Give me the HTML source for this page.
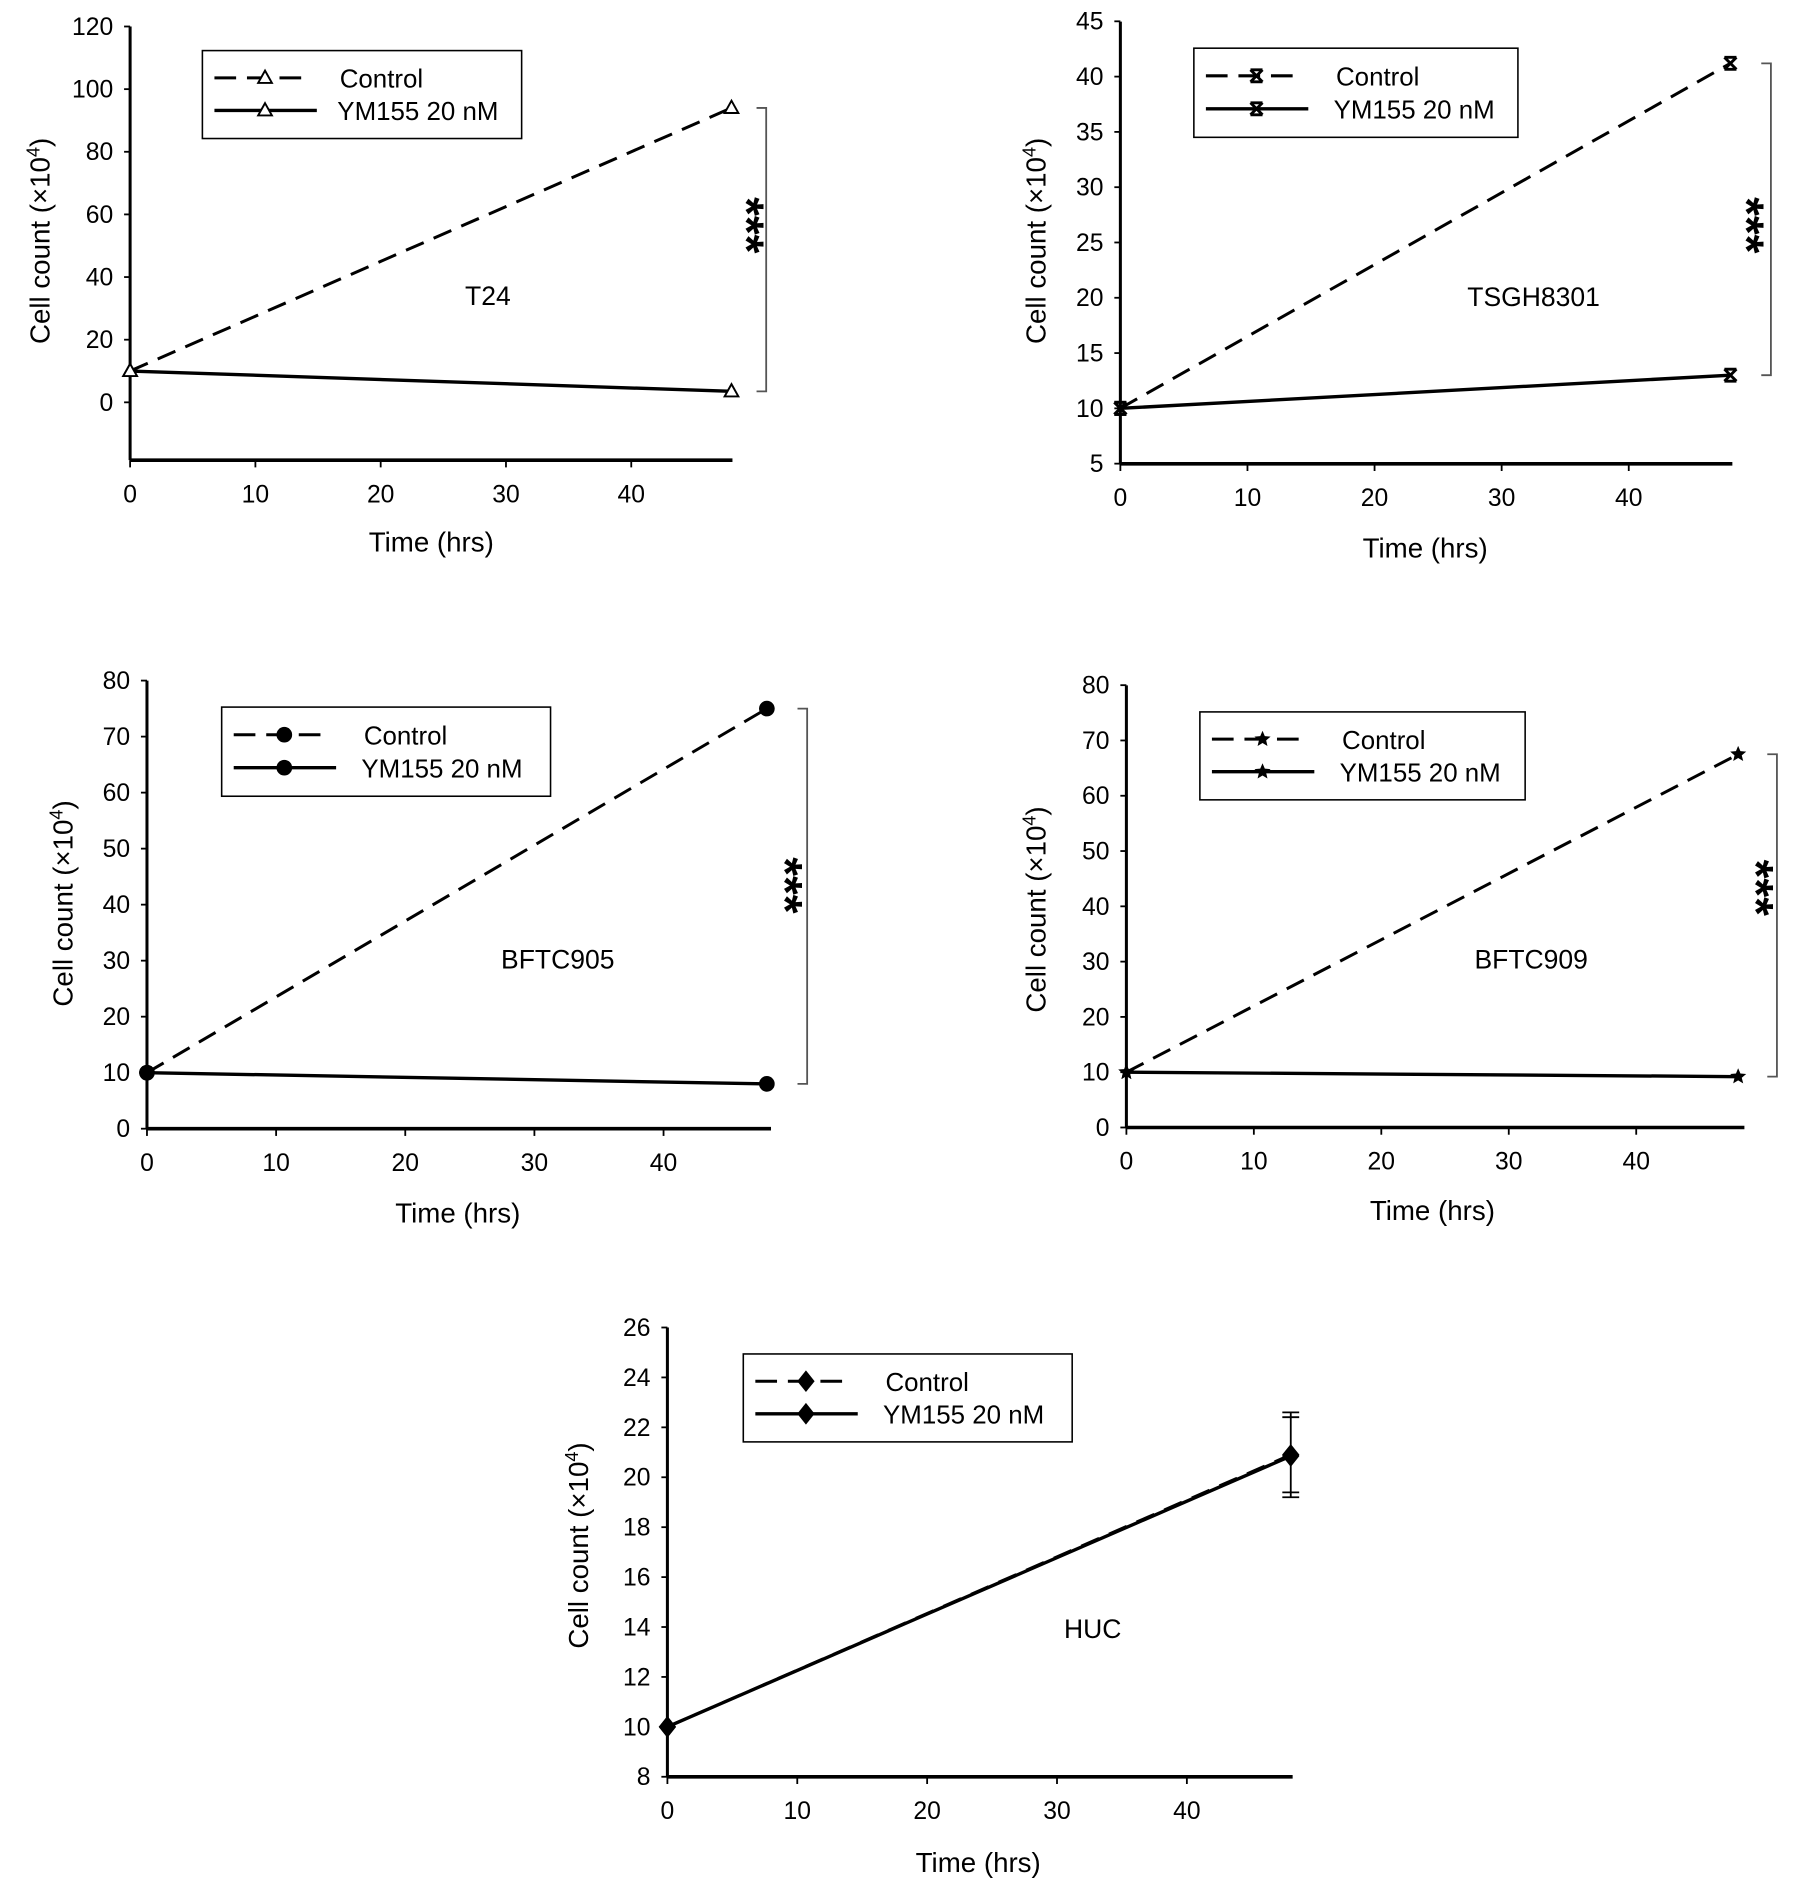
<!DOCTYPE html>
<html><head><meta charset="utf-8"><style>
html,body{margin:0;padding:0;background:#fff;}
svg{display:block;font-family:"Liberation Sans",Arial,sans-serif;}
</style></head><body>
<svg id="fig" width="1795" height="1890" viewBox="0 0 1490 1569" preserveAspectRatio="none" xmlns="http://www.w3.org/2000/svg"></svg>
<script>
// Data arrays
const timePoints = [0, 48];
const xTicks = [0, 10, 20, 30, 40];
const panelNames = ["T24", "TSGH8301", "BFTC905", "BFTC909", "HUC"];
const controlT24 = [10, 94];
const ymT24 = [10, 3.5];
const controlTSGH = [10, 41.2];
const ymTSGH = [10, 13];
const controlB905 = [10, 75];
const ymB905 = [10, 8];
const controlB909 = [10, 67.5];
const ymB909 = [10, 9.2];
const controlHUC = [10, 20.9];
const ymHUC = [10, 20.85];
const errHUC = [0, 1.7];
const yTicksT24 = [0, 20, 40, 60, 80, 100, 120];
const yTicksTSGH = [5, 10, 15, 20, 25, 30, 35, 40, 45];
const yTicks905 = [0, 10, 20, 30, 40, 50, 60, 70, 80];
const yTicks909 = [0, 10, 20, 30, 40, 50, 60, 70, 80];
const yTicksHUC = [8, 10, 12, 14, 16, 18, 20, 22, 24, 26];

const NS = "http://www.w3.org/2000/svg";
const svg = document.getElementById("fig");
function mk(tag, attrs, parent, text) {
  const e = document.createElementNS(NS, tag);
  for (const k in attrs) e.setAttribute(k, attrs[k]);
  if (text !== undefined) e.textContent = text;
  (parent || svg).appendChild(e);
  return e;
}
function marker(g, type, x, y, s) {
  let m;
  if (type === "tri") m = mk("path", {d:`M${x},${y-s} L${x+s*0.95},${y+s*0.7} L${x-s*0.95},${y+s*0.7} Z`, fill:"#fff", stroke:"#000", "stroke-width":1.6}, g);
  else if (type === "x") m = mk("path", {d:`M${x-s},${y-s} L${x+s},${y+s} M${x+s},${y-s} L${x-s},${y+s} M${x-s},${y-s} L${x+s},${y-s} M${x-s},${y+s} L${x+s},${y+s}`, fill:"none", stroke:"#000", "stroke-width":2.4}, g);
  else if (type === "circle") m = mk("circle", {cx:x, cy:y, r:s, fill:"#000"}, g);
  else if (type === "star") {
    let d = "";
    for (let i = 0; i < 10; i++) { const a = -Math.PI/2 + i*Math.PI/5; const r = i%2 ? s*0.45 : s; d += (i?"L":"M") + (x+r*Math.cos(a)).toFixed(1) + "," + (y+r*Math.sin(a)).toFixed(1); }
    m = mk("path", {d:d+"Z", fill:"#000"}, g);
  } else if (type === "diamond") m = mk("path", {d:`M${x},${y-s} L${x+s*0.8},${y} L${x},${y+s} L${x-s*0.8},${y} Z`, fill:"#000"}, g);
  
  
  return m;
}

const panels = [
  {id:"t24", name:panelNames[0], ax:108, ay:382, xEnd:608, xpx:10.4, yTop:22, y0:334, yv0:0, ypx:2.6, ticks:yTicksT24, ctrl:controlT24, ym:ymT24, mk:"tri", ms:6, leg:[168,42,265,73], lab:[405,245], ylab:[33,200], xlab:[358,450], br:[636,628], star:[620,187], err:null},
  {id:"tsgh8301", name:panelNames[1], ax:930, ay:385, xEnd:1438, xpx:10.55, yTop:18, y0:339, yv0:10, ypx:9.18, ticks:yTicksTSGH, ctrl:controlTSGH, ym:ymTSGH, mk:"x", ms:5, leg:[991,40,269,74], lab:[1273,246], ylab:[860,200], xlab:[1183,455], br:[1470,1462], star:[1450,187], err:null},
  {id:"bftc905", name:panelNames[2], ax:122, ay:937, xEnd:640, xpx:10.72, yTop:565, y0:937, yv0:0, ypx:4.65, ticks:yTicks905, ctrl:controlB905, ym:ymB905, mk:"circle", ms:6.5, leg:[184,587,273,74], lab:[463,796], ylab:[52,750], xlab:[380,1007], br:[670,662], star:[652,735], err:null},
  {id:"bftc909", name:panelNames[3], ax:935, ay:936, xEnd:1448, xpx:10.58, yTop:569, y0:936, yv0:0, ypx:4.59, ticks:yTicks909, ctrl:controlB909, ym:ymB909, mk:"star", ms:7, leg:[996,591,270,73], lab:[1271,796], ylab:[860,755], xlab:[1189,1005], br:[1475,1467], star:[1458,737], err:null},
  {id:"huc", name:panelNames[4], ax:554, ay:1475, xEnd:1073, xpx:10.78, yTop:1102, y0:1475, yv0:8, ypx:20.72, ticks:yTicksHUC, ctrl:controlHUC, ym:ymHUC, mk:"diamond", ms:9, leg:[617,1124,273,73], lab:[907,1352], ylab:[480,1283], xlab:[812,1546], br:null, star:null, err:errHUC}
];

panels.forEach(p => {
  const g = mk("g", {}, svg);
  
  
  const X = t => p.ax + t * p.xpx;
  const Y = v => p.y0 - (v - p.yv0) * p.ypx;
  const ya = mk("line", {x1:p.ax, y1:p.yTop, x2:p.ax, y2:p.ay, stroke:"#000", "stroke-width":2.5}, g);
  
  
  const xa = mk("line", {x1:p.ax, y1:p.ay, x2:p.xEnd, y2:p.ay, stroke:"#000", "stroke-width":3}, g);
  
  
  p.ticks.forEach(v => {
    mk("line", {x1:p.ax-5, y1:Y(v), x2:p.ax, y2:Y(v), stroke:"#000", "stroke-width":1.5}, g);
    const t = mk("text", {x:p.ax-14, y:Y(v)+7, "text-anchor":"end", "font-size":20.5}, g, String(v));
    
    
  });
  xTicks.forEach(v => {
    mk("line", {x1:X(v), y1:p.ay, x2:X(v), y2:p.ay+6, stroke:"#000", "stroke-width":1.5}, g);
    const t = mk("text", {x:X(v), y:p.ay+35, "text-anchor":"middle", "font-size":20.5}, g, String(v));
    
    
  });
  const yt = mk("text", {x:0, y:0, "text-anchor":"middle", "font-size":23, transform:`translate(${p.ylab[0]+8},${p.ylab[1]}) rotate(-90)`}, g);
  
  
  yt.appendChild(document.createTextNode("Cell count (\u00d710"));
  mk("tspan", {"baseline-shift":"super", "font-size":15}, yt, "4");
  mk("tspan", {}, yt, ")");
  const xt = mk("text", {x:p.xlab[0], y:p.xlab[1]+8, "text-anchor":"middle", "font-size":23}, g, "Time (hrs)");
  
  
  const lb = mk("text", {x:p.lab[0], y:p.lab[1]+8, "text-anchor":"middle", "font-size":22}, g, p.name);
  
  
  const dC = timePoints.map((t,i)=>(i?"L":"M")+X(t)+","+Y(p.ctrl[i])).join(" ");
  const lc = mk("path", {d:dC, fill:"none", stroke:"#000", "stroke-width":2.5, "stroke-dasharray":"16,9"}, g);
  
  
  const dY = timePoints.map((t,i)=>(i?"L":"M")+X(t)+","+Y(p.ym[i])).join(" ");
  const ly = mk("path", {d:dY, fill:"none", stroke:"#000", "stroke-width":2.8}, g);
  
  
  if (p.err) {
    timePoints.forEach((t,i) => {
      if (!p.err[i]) return;
      const x = X(t), v = p.ctrl[i], e = p.err[i];
      const eb = mk("path", {d:`M${x},${Y(v+e)} L${x},${Y(v-e)} M${x-7},${Y(v+e)} L${x+7},${Y(v+e)} M${x-7},${Y(v+e)+4} L${x+7},${Y(v+e)+4} M${x-7},${Y(v-e)} L${x+7},${Y(v-e)} M${x-7},${Y(v-e)-4} L${x+7},${Y(v-e)-4}`, stroke:"#000", "stroke-width":1.5, fill:"none"}, g);
      
      
    });
  }
  timePoints.forEach((t,i) => { marker(g, p.mk, X(t), Y(p.ctrl[i]), p.ms); marker(g, p.mk, X(t), Y(p.ym[i]), p.ms); });
  if (p.br) {
    const y1 = Y(p.ctrl[1]), y2 = Y(p.ym[1]);
    const b = mk("path", {d:`M${p.br[1]},${y1} L${p.br[0]},${y1} L${p.br[0]},${y2} L${p.br[1]},${y2}`, fill:"none", stroke:"#555", "stroke-width":1.5}, g);
    
    
    const st = mk("text", {x:0, y:0, "text-anchor":"middle", "font-size":40, "font-weight":"bold", transform:`translate(${p.star[0]-14},${p.star[1]}) rotate(90)`}, g, "***");
    
    
  }
  const [lx, lyy, lw, lh] = p.leg;
  const lg = mk("g", {}, g);
  
  
  mk("rect", {x:lx, y:lyy, width:lw, height:lh, fill:"#fff", stroke:"#000", "stroke-width":1.3}, lg);
  const r1 = lyy + lh*0.31, r2 = lyy + lh*0.68;
  mk("line", {x1:lx+10, y1:r1, x2:lx+90, y2:r1, stroke:"#000", "stroke-width":2.5, "stroke-dasharray":"18,9"}, lg);
  mk("line", {x1:lx+10, y1:r2, x2:lx+95, y2:r2, stroke:"#000", "stroke-width":2.8}, lg);
  marker(lg, p.mk, lx+52, r1, p.ms);
  marker(lg, p.mk, lx+52, r2, p.ms);
  const off = p.id === "t24" ? 114 : 118;
  const e1 = mk("text", {x:lx+off, y:r1+8, "font-size":21.5}, lg, "Control");
  
  
  const e2 = mk("text", {x:lx+off-2, y:r2+8, "font-size":21.5}, lg, "YM155 20 nM");
  
  
});
</script>
</body></html>
